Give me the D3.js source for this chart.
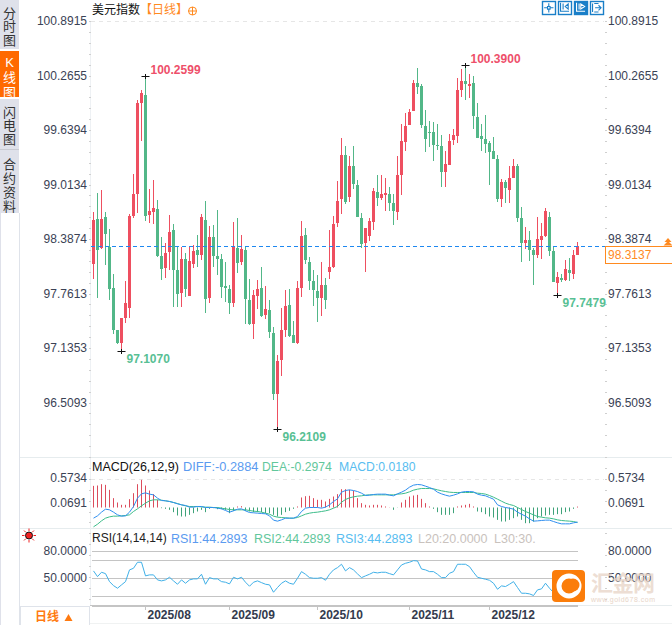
<!DOCTYPE html>
<html>
<head>
<meta charset="utf-8">
<script src="https://cdn.jsdelivr.net/npm/d3@7/dist/d3.min.js"></script>
<style>
  html, body { margin: 0; padding: 0; background: #fff; }
  svg { display: block; }
  text { font-family: "Liberation Sans", Arial, "Noto Sans CJK SC", sans-serif; }
</style>
</head>
<body>
<svg id="chart" width="672" height="625"></svg>
<script>
// candles, oldest first
const candleOpen = [
  98.11,98.62,98.29,98.64,98.30,97.83,97.35,97.20,97.48,97.60,
  98.66,98.91,99.95,100.05,98.67,98.70,98.74,98.20,98.06,98.24,
  98.50,98.04,97.77,98.16,97.74,98.11,98.27,98.21,98.61,97.71,
  98.41,98.20,98.16,97.85,97.82,97.66,98.29,98.13,98.27,97.69,
  97.42,97.74,97.83,97.52,97.58,97.31,96.61,97.00,97.35,97.63,
  97.29,97.20,97.83,98.44,98.13,97.91,97.80,97.71,97.86,98.01,
  98.07,98.58,98.85,99.36,98.87,99.23,99.01,98.63,98.35,98.43,
  98.59,98.93,98.86,98.90,98.91,98.81,98.70,99.13,99.51,99.70,
  99.86,100.18,100.15,99.69,99.62,99.62,99.47,99.46,99.16,99.24,
  99.53,99.57,100.10,100.21,100.15,100.18,99.79,99.57,99.54,99.49,
  99.40,99.31,98.85,99.05,98.95,99.09,99.23,98.63,98.35,98.38,
  98.27,98.21,98.38,98.43,98.64,98.25,97.89,97.95,97.92,98.04,
  97.99,98.21
];
const candleHigh = [
  98.70,98.92,98.95,98.70,98.51,97.99,97.35,97.48,97.91,98.68,
  99.14,99.99,100.10,100.2599,98.97,99.07,98.84,98.42,98.35,98.67,
  98.57,98.30,98.30,98.23,98.30,98.32,98.44,98.68,98.83,98.54,
  98.55,98.73,98.22,98.13,97.86,98.59,98.63,98.44,98.30,97.93,
  97.81,97.92,98.07,97.85,97.69,97.38,97.06,97.60,97.81,97.82,
  97.45,97.91,98.60,98.52,98.19,98.04,97.98,98.13,97.95,98.50,
  98.66,99.06,99.55,99.46,99.35,99.46,99.07,98.69,98.52,98.63,
  98.98,99.13,99.13,99.09,98.99,98.91,99.35,99.71,99.84,99.88,
  100.22,100.36,100.17,99.87,99.75,99.74,99.71,99.59,99.40,99.60,
  99.66,100.24,100.34,100.39,100.29,100.26,99.95,99.71,99.82,99.52,
  99.56,99.36,99.08,99.07,99.23,99.31,99.25,98.76,98.53,98.48,
  98.29,98.64,98.58,98.75,98.70,98.30,98.01,97.99,98.15,98.17,
  98.27,98.36
];
const candleLow = [
  97.93,97.71,98.28,98.09,97.69,97.30,97.19,97.107,97.43,97.49,
  98.63,98.69,99.52,98.60,98.58,98.56,98.19,97.92,97.94,98.04,
  97.61,97.61,97.61,97.73,97.74,98.06,98.07,98.15,97.54,97.66,
  98.07,97.98,97.71,97.67,97.53,97.61,98.00,98.09,97.42,97.41,
  97.24,97.59,97.50,97.47,97.26,96.54,96.2109,96.82,97.27,97.27,
  97.20,97.19,97.73,98.11,97.81,97.62,97.44,97.51,97.59,97.93,
  98.06,98.53,98.68,98.79,98.82,98.97,98.64,98.29,98.01,98.37,
  98.50,98.77,98.84,98.71,98.71,98.55,98.61,98.90,99.40,99.70,
  99.86,100.06,99.67,99.39,99.45,99.29,99.41,98.99,98.99,99.24,
  99.47,99.49,100.02,99.99,100.01,99.65,99.55,99.40,99.38,99.01,
  99.31,98.82,98.76,98.80,98.80,99.09,98.59,98.13,98.28,98.14,
  97.86,98.17,98.16,98.41,98.20,97.90,97.7479,97.90,97.91,97.91,
  97.93,98.21
];
const candleClose = [
  98.61,98.27,98.62,98.45,97.82,97.35,97.20,97.48,97.66,98.66,
  98.91,99.95,100.07,98.66,98.71,98.75,98.20,98.05,98.23,98.47,
  98.04,97.76,98.16,97.82,98.14,98.25,98.21,98.64,97.70,98.41,
  98.20,98.16,97.84,97.83,97.66,98.30,98.12,98.28,97.70,97.42,
  97.75,97.82,97.51,97.59,97.32,96.61,96.99,97.35,97.62,97.28,
  97.20,97.83,98.43,98.15,97.91,97.81,97.71,97.86,97.69,98.07,
  98.56,98.83,99.36,98.82,99.23,99.02,98.64,98.33,98.52,98.60,
  98.94,98.86,98.91,98.92,98.81,98.71,99.13,99.52,99.69,99.85,
  100.18,100.14,99.70,99.54,99.61,99.47,99.46,99.16,99.25,99.52,
  99.59,100.10,100.21,100.17,100.17,99.80,99.55,99.54,99.48,99.39,
  99.31,98.85,99.05,98.98,99.09,99.23,98.63,98.35,98.38,98.27,
  98.21,98.39,98.43,98.71,98.25,97.90,97.96,97.92,98.05,98.00,
  98.21,98.3137
];

const diffValues = [
  -.211,-.165,-.092,-.033,-.046,-.092,-.145,-.171,-.165,-.092,
  .020,.185,.270,.290,.264,.250,.185,.138,.132,.119,
  .099,.072,.053,.040,.007,.007,.020,.020,0,0,
  0,-.013,-.026,-.059,-.092,-.066,-.033,-.026,-.066,-.099,
  -.105,-.112,-.119,-.125,-.165,-.250,-.270,-.244,-.211,-.211,
  -.211,-.178,-.079,-.013,0,0,0,-.013,.007,.053,
  .119,.171,.303,.336,.349,.336,.316,.283,.237,.244,
  .257,.264,.264,.264,.244,.231,.270,.303,.343,.402,
  .442,.455,.448,.422,.395,.362,.303,.270,.244,.224,
  .244,.270,.303,.316,.316,.310,.264,.244,.231,.198,
  .165,.053,.020,0,-.013,-.033,-.092,-.132,-.171,-.224,
  -.270,-.264,-.257,-.250,-.250,-.277,-.303,-.323,-.323,-.323,
  -.303,-.2884
];
const deaValues = [
  -.382,-.330,-.264,-.211,-.185,-.171,-.171,-.165,-.158,-.145,
  -.079,-.026,.033,.086,.132,.152,.152,.145,.132,.119,
  .099,.079,.053,.033,.020,.020,.020,.013,.007,.007,
  0,0,-.013,-.026,-.040,-.046,-.046,-.046,-.046,-.059,
  -.072,-.079,-.092,-.112,-.132,-.171,-.191,-.198,-.204,-.211,
  -.211,-.198,-.165,-.132,-.112,-.099,-.092,-.079,-.066,-.046,
  -.013,.020,.105,.158,.191,.211,.224,.231,.244,.250,
  .250,.250,.250,.250,.250,.250,.264,.270,.283,.310,
  .343,.362,.376,.376,.376,.369,.349,.330,.316,.303,
  .297,.297,.297,.297,.297,.297,.283,.277,.264,.237,
  .204,.165,.125,.086,.059,.040,0,-.040,-.079,-.112,
  -.145,-.178,-.191,-.204,-.211,-.224,-.244,-.257,-.264,-.270,
  -.277,-.2974
];
const macdBars = [
  .428,.435,.461,.448,.349,.185,.099,.053,.053,.165,
  .283,.461,.547,.435,.336,.264,.152,-.013,-.026,-.046,
  -.092,-.158,-.178,-.178,-.145,-.112,-.079,-.046,-.092,-.026,
  -.013,-.033,-.033,-.046,-.112,-.066,.020,.026,-.066,-.079,
  -.092,-.092,-.092,-.112,-.112,-.145,-.178,-.145,-.092,-.066,
  -.026,.020,.198,.224,.231,.185,.152,.152,.119,.171,
  .217,.264,.362,.362,.349,.330,.185,.086,.053,.040,
  .053,.053,.040,.020,.004,-.046,-.004,.099,.152,.217,
  .237,.250,.171,.086,.020,-.026,-.092,-.145,-.145,-.145,
  -.112,.020,.040,.053,.072,.020,-.079,-.092,-.132,-.178,
  -.198,-.244,-.277,-.277,-.244,-.211,-.178,-.244,-.310,-.310,
  -.277,-.211,-.178,-.158,-.145,-.145,-.132,-.132,-.092,-.079,
  -.026,.018
];
const rsiValues = [
  58.1,51.8,56.6,55.1,46.3,41.9,39.0,42.7,46.3,59.2,
  61.0,67.6,67.6,52.6,53.7,53.7,48.2,47.1,48.2,51.1,
  47.1,43.4,48.2,44.5,48.2,49.3,49.3,54.4,43.4,50.7,
  49.3,49.3,46.3,45.6,43.8,51.1,49.3,51.1,45.6,41.2,
  45.6,47.1,45.2,43.4,42.7,34.6,39.8,44.5,47.1,44.5,
  43.4,50,57.3,54.4,50.7,50,50,50.7,47.8,54.4,
  59.2,61.7,65.4,58.1,61.7,59.2,54.8,50.7,52.6,54.4,
  56.6,55.9,56.6,56.6,55.1,53.7,59.2,64.6,66.5,67.6,
  69.4,69.0,60.2,59.2,57.3,57.3,54.4,50.7,50.7,55.5,
  57.3,65.4,65.4,65.4,62.8,56.6,51.1,50,48.9,47.8,
  44.5,37.9,41.6,40.9,43.4,46.3,39.8,33.5,33.5,32.8,
  31.0,37.2,38.3,44.5,39.0,34.3,37.2,40.9,38.3,42.7,
  44.5,44.29
];

const priceTicks = [100.8915, 100.2655, 99.6394, 99.0134, 98.3874, 97.7613, 97.1353, 96.5093];
const macdTicks = [0.5734, 0.0691];
const rsiLabelTicks = [80, 50];
const rsiGridLines = [80, 70, 50, 30, 20];
const monthLabels = ["2025/08", "2025/09", "2025/10", "2025/11", "2025/12"];
const monthStarts = [13, 34, 56, 79, 99];
const extremes = [
  { i: 13, price: 100.2599, text: "100.2599", dx: 5, dy: -7, up: true },
  { i: 93, price: 100.39, text: "100.3900", dx: 5, dy: -7, up: true },
  { i: 7, price: 97.107, text: "97.1070", dx: 5, dy: 7, up: false },
  { i: 46, price: 96.2109, text: "96.2109", dx: 5, dy: 7, up: false },
  { i: 116, price: 97.7479, text: "97.7479", dx: 5, dy: 7, up: false }
];
const lastPrice = 98.3137;
const sideTabs = [
  { label: ["分", "时", "图"], y0: 0, y1: 49, first: 13, step: 13.7 },
  { label: ["K", "线", "图"], y0: 51, y1: 97, first: 62, step: 15, active: true },
  { label: ["闪", "电", "图"], y0: 99, y1: 149, first: 112, step: 13.7 },
  { label: ["合", "约", "资", "料"], y0: 150, y1: 213, first: 164, step: 14 }
];

const upColor = "#ee4f60";
const downColor = "#52b788";
const axisText = "#3a4255";

const svg = d3.select("#chart");

const x = d3.scaleLinear().domain([0, 121]).range([93.5, 577.5]);
const yPrice = d3.scaleLinear().domain([100.39, 96.2109]).range([65, 429]);
const yMacd = d3.scaleLinear().domain([0.5734, 0]).range([478.5, 507.5]);
const yRsi = d3.scaleLinear().domain([80, 20]).range([551, 605.5]);

// left tabs
svg.append("rect").attr("x", 0).attr("y", 213).attr("width", 1).attr("height", 412).attr("fill", "#dfe1ea");
svg.append("line").attr("x1", 19.5).attr("x2", 19.5).attr("y1", 213).attr("y2", 625).attr("stroke", "#dfe3ea");
sideTabs.forEach(tab => {
  svg.append("rect")
    .attr("x", 0).attr("y", tab.y0).attr("width", 19).attr("height", tab.y1 - tab.y0)
    .attr("fill", tab.active ? "#ff6a00" : "#dfe1ea");
  tab.label.forEach((ch, k) => {
    svg.append("text")
      .text(ch)
      .attr("x", 9.5).attr("y", tab.first + k * tab.step)
      .attr("dy", "0.36em")
      .attr("text-anchor", "middle")
      .attr("font-size", 13)
      .attr("fill", tab.active ? "#fff" : "#333");
  });
});
svg.append("line").attr("x1", 0).attr("x2", 19).attr("y1", 149.5).attr("y2", 149.5).attr("stroke", "#c8cad2");

// panel frames
function hline(y, x1, x2, color, dash) {
  svg.append("line")
    .attr("x1", x1).attr("x2", x2).attr("y1", y + 0.5).attr("y2", y + 0.5)
    .attr("stroke", color)
    .attr("stroke-dasharray", dash || null);
}
hline(457, 20, 672, "#e6ecee");
hline(528, 20, 672, "#e6ecee");
hline(605, 90, 578, "#c4c4c4");
hline(605, 578, 672, "#e6ecee");
hline(623, 90, 672, "#f0f2f2");
svg.append("rect").attr("x", 20.5).attr("y", 606.5).attr("width", 69).attr("height", 19)
  .attr("fill", "#fff").attr("stroke", "#dfe3ea");

// dashed grid
hline(21, 91, 604, "#e6e6e6", "4,4");
hline(Math.round(yMacd(macdTicks[0])), 91, 604, "#e6e6e6", "4,4");

// axis rails with little dots
svg.append("line").attr("x1", 90.5).attr("x2", 90.5).attr("y1", 21).attr("y2", 605).attr("stroke", "#eef1f4");
const railDots = d3.range(21, 602, 10.9);
[89, 605].forEach(dotX => {
  svg.selectAll(null).data(railDots).enter().append("rect")
    .attr("x", dotX).attr("y", d => Math.round(d))
    .attr("width", 2).attr("height", 1)
    .attr("fill", "#cfcfcf");
});

// price axis labels on both sides
function sideLabels(label, yy) {
  svg.append("text").text(label).attr("x", 87).attr("y", yy).attr("dy", "0.36em")
    .attr("text-anchor", "end").attr("font-size", 12).attr("fill", axisText);
  svg.append("text").text(label).attr("x", 608).attr("y", yy).attr("dy", "0.36em")
    .attr("font-size", 12).attr("fill", axisText);
}
priceTicks.forEach(t => sideLabels(t.toFixed(4), yPrice(t) - 0.5));
macdTicks.forEach(t => sideLabels(t.toFixed(4), yMacd(t) - 1));
rsiLabelTicks.forEach(t => sideLabels(t.toFixed(4), yRsi(t) - 0.8));

// candles
const candles = svg.append("g").selectAll("g").data(candleClose).enter().append("g")
  .attr("fill", (c, i) => (c >= candleOpen[i] ? upColor : downColor));
candles.append("rect")
  .attr("x", (c, i) => x(i) - 0.5)
  .attr("width", 1)
  .attr("y", (c, i) => Math.round(yPrice(candleHigh[i])))
  .attr("height", (c, i) => Math.round(yPrice(candleLow[i])) - Math.round(yPrice(candleHigh[i])));
candles.append("rect")
  .attr("x", (c, i) => x(i) - 1.5)
  .attr("width", 3)
  .attr("y", (c, i) => Math.round(yPrice(Math.max(c, candleOpen[i]))))
  .attr("height", (c, i) => Math.max(1, Math.round(yPrice(Math.min(c, candleOpen[i]))) - Math.round(yPrice(Math.max(c, candleOpen[i])))));

// last price line and box
const lastY = Math.round(yPrice(lastPrice));
hline(lastY, 91, 605, "#1e88f0", "4,3");
svg.append("rect").attr("x", 605.5).attr("y", 246.5).attr("width", 67).attr("height", 17)
  .attr("fill", "#fff").attr("stroke", "#ff8a1f");
svg.append("text").text(lastPrice.toFixed(4)).attr("x", 608).attr("y", 255).attr("dy", "0.36em")
  .attr("font-size", 12).attr("fill", "#ff8a1f");
svg.append("path").attr("d", "M668 238l3.5 4h-7zM668 241l4.5 4.5h-9z").attr("fill", "#ff8a1f");

// high and low markers
extremes.forEach(e => {
  const ex = x(e.i);
  const ey = Math.round(yPrice(e.price)) + 0.5;
  svg.append("path").attr("d", `M${ex - 4} ${ey}H${ex + 4}M${ex} ${ey - 2.5}V${ey + 2.5}`)
    .attr("stroke", "#111").attr("fill", "none");
  svg.append("text").text(e.text)
    .attr("x", ex + e.dx).attr("y", ey + e.dy).attr("dy", "0.36em")
    .attr("font-size", 12).attr("font-weight", "bold")
    .attr("fill", e.up ? "#ee4f6a" : "#58c094");
});

// MACD panel
svg.append("g").selectAll("rect").data(macdBars).enter().append("rect")
  .attr("x", (v, i) => x(i) - 0.5)
  .attr("width", 1)
  .attr("y", v => Math.min(yMacd(v), yMacd(0)))
  .attr("height", v => Math.abs(yMacd(v) - yMacd(0)))
  .attr("fill", v => (v >= 0 ? "#dc4c5c" : "#3fa37a"));
const macdLine = d3.line().x((v, i) => x(i)).y(v => yMacd(v));
svg.append("path").attr("d", macdLine(deaValues)).attr("fill", "none").attr("stroke", "#3dbd8a");
svg.append("path").attr("d", macdLine(diffValues)).attr("fill", "none").attr("stroke", "#2f8ff0");

// RSI panel
rsiGridLines.forEach(v => hline(Math.round(yRsi(v)), 92, 578, "#c4c4c4"));
svg.append("path")
  .attr("d", d3.line().x((v, i) => x(i)).y(v => yRsi(v))(rsiValues))
  .attr("fill", "none").attr("stroke", "#3fb0e8");

// header rows
function headerText(label, hx, hy, color, size) {
  svg.append("text").text(label).attr("x", hx).attr("y", hy).attr("dy", "0.36em")
    .attr("font-size", size || 12.5).attr("fill", color);
}
headerText("美元指数", 92, 9.5, "#111", 12);
headerText("【日线】", 140, 9.5, "#ff8a1f", 12);
svg.append("circle").attr("cx", 192.5).attr("cy", 11).attr("r", 4).attr("fill", "none").attr("stroke", "#ff8a1f");
svg.append("path").attr("d", "M188.5 11H196.5M192.5 7V15").attr("stroke", "#ff8a1f").attr("fill", "none");

headerText("MACD(26,12,9)", 92, 466.5, "#111");
headerText("DIFF:-0.2884", 183, 466.5, "#5b9bf0", 12.8);
headerText("DEA:-0.2974", 262, 466.5, "#62c79c", 12.2);
headerText("MACD:0.0180", 339, 466.5, "#58bdf0", 12.2);

headerText("RSI(14,14,14)", 92, 538, "#222", 12);
headerText("RSI1:44.2893", 171, 538, "#5b9bf0");
headerText("RSI2:44.2893", 254, 538, "#62c79c");
headerText("RSI3:44.2893", 336, 538, "#58bdf0");
headerText("L20:20.0000", 418, 538, "#c9c2bd");
headerText("L30:30.", 494, 538, "#c9c2bd");

// indicator switch icon
const sun = svg.append("g").attr("transform", "translate(29,535.5)");
d3.range(8).forEach(k => {
  const a = k * Math.PI / 4;
  sun.append("line")
    .attr("x1", Math.cos(a) * 4.5).attr("y1", Math.sin(a) * 4.5)
    .attr("x2", Math.cos(a) * 7).attr("y2", Math.sin(a) * 7)
    .attr("stroke", "#f02020");
});
sun.append("circle").attr("r", 3.5).attr("fill", "#f02020").attr("stroke", "#111");

// toolbar icons
const toolIcons = [
  { x: 542, filled: false, d: "M8 2.5v4M8 9.5v4M2.5 8h4M9.5 8h4M6.5 6.5h3v3h-3z" },
  { x: 558, filled: false, d: "M3 2v10h10M6 3v7M12 3.5l-3.5 3 3.5 3z" },
  { x: 574, filled: true, d: "M3 2v10h10M6 3v7M8 3.5l4.5 3-4.5 3z" },
  { x: 590, filled: false, d: "M3 3v10M13 8H6M10 5l3 3-3 3M5 3h5M5 13h5" }
];
toolIcons.forEach(icon => {
  const g = svg.append("g").attr("transform", `translate(${icon.x},1)`);
  g.append("rect").attr("x", 0.5).attr("y", 0.5).attr("width", 13).attr("height", 13)
    .attr("fill", icon.filled ? "#1a7fc8" : "#fff").attr("stroke", "#1a7fc8").attr("stroke-width", 1.4);
  g.append("path").attr("d", icon.d).attr("transform", "scale(0.85)")
    .attr("fill", "none").attr("stroke", icon.filled ? "#fff" : "#1a7fc8").attr("stroke-width", 1.3);
});

// time axis
monthLabels.forEach((m, k) => {
  const tx = Math.round(x(monthStarts[k])) - 0.5;
  svg.append("line").attr("x1", tx).attr("x2", tx).attr("y1", 606).attr("y2", 610).attr("stroke", "#c4c4c4");
  svg.append("text").text(m).attr("x", tx + 2).attr("y", 615).attr("dy", "0.36em")
    .attr("font-size", 12).attr("font-weight", "bold").attr("fill", "#333a4d");
});
svg.append("text").text("日线").attr("x", 47).attr("y", 617).attr("dy", "0.36em")
  .attr("text-anchor", "middle").attr("font-size", 12).attr("font-weight", "bold").attr("fill", "#ff7a10");
svg.append("path").attr("d", "M64.5 621l4-7 4 7z").attr("fill", "#ff7a10");

// watermark on top
const mark = svg.append("g");
mark.append("rect").attr("x", 552).attr("y", 570).attr("width", 33).attr("height", 32).attr("rx", 4).attr("fill", "#fb7d0a");
mark.append("circle").attr("cx", 569).attr("cy", 586).attr("r", 10).attr("fill", "none").attr("stroke", "#fff").attr("stroke-width", 5);
mark.append("circle").attr("cx", 573).attr("cy", 585).attr("r", 6.5).attr("fill", "#fb7d0a");
mark.append("text").text("汇金网").attr("x", 591).attr("y", 583).attr("dy", "0.36em")
  .attr("font-size", 22).attr("font-weight", "bold").attr("fill", "#e8d5c8").attr("fill-opacity", 0.8).attr("textLength", 64);
mark.append("text").text("www.gold678.com").attr("x", 591).attr("y", 599).attr("dy", "0.36em")
  .attr("font-size", 7).attr("fill", "#e8d5c8").attr("textLength", 64);
</script>
</body>
</html>
